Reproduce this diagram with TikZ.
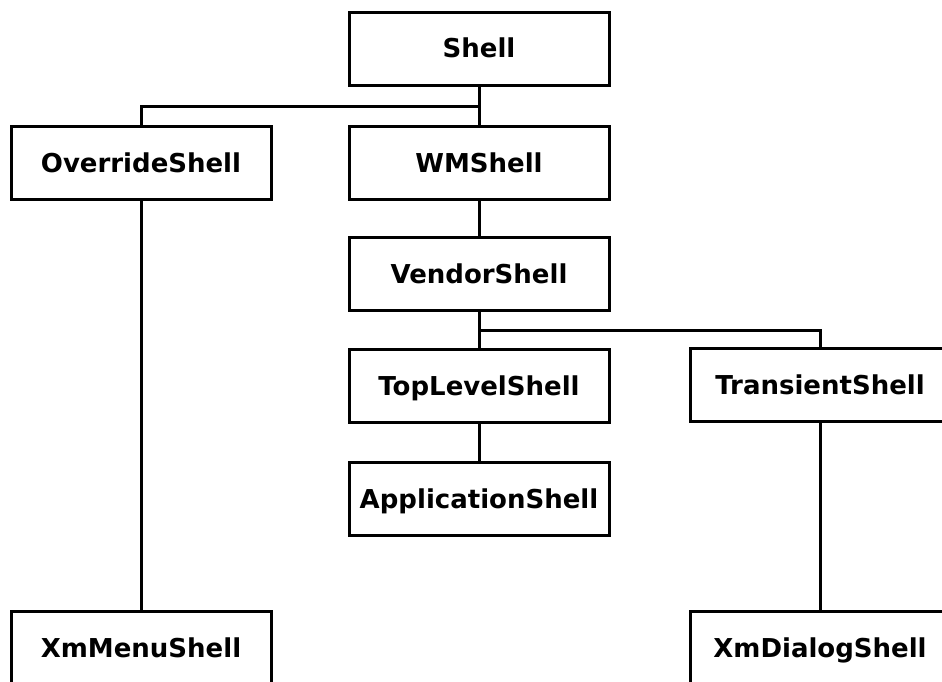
\documentclass[tikz,border=0pt]{standalone}
\usepackage{fontspec}
\setmainfont{DejaVu Sans}
\begin{document}
\begin{tikzpicture}[x=1pt,y=-1pt,
  cls/.style={draw, line width=3pt, fill=white, minimum width=260pt, minimum height=73pt,
    inner sep=0pt, text height=21pt, text depth=3pt,
    font=\fontsize{26}{30}\selectfont\bfseries},
  link/.style={line width=3pt}]
\useasboundingbox (0,0) rectangle (942,682);
% class boxes
\node[cls] (shell)    at (479,49)  {Shell};
\node[cls] (override) at (141,163) {OverrideShell};
\node[cls] (wm)       at (479,163) {WMShell};
\node[cls] (vendor)   at (479,274) {VendorShell};
\node[cls] (toplevel) at (479,386) {TopLevelShell};
\node[cls] (transient) at (820,385) {TransientShell};
\node[cls] (appl)     at (479,499) {ApplicationShell};
\node[cls] (menu)     at (141,648) {XmMenuShell};
\node[cls] (dialog)   at (820,648) {XmDialogShell};
% branch levels
\coordinate (b1) at (0,107);
\coordinate (b2) at (0,330);
% inheritance links
\draw[link] (shell.south) -- (wm.north);
\draw[link] (shell.south |- b1) -| (override.north);
\draw[link] (wm.south) -- (vendor.north);
\draw[link] (vendor.south) -- (toplevel.north);
\draw[link] (vendor.south |- b2) -| (transient.north);
\draw[link] (toplevel.south) -- (appl.north);
\draw[link] (override.south) -- (menu.north);
\draw[link] (transient.south) -- (dialog.north);
\end{tikzpicture}
\end{document}
